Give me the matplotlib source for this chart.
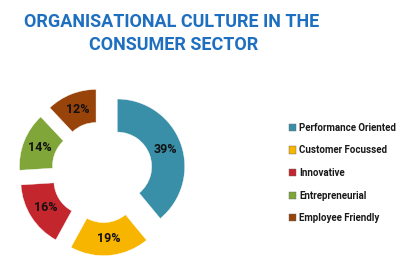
import matplotlib.pyplot as plt
from matplotlib.patches import Patch

labels = ["Performance Oriented", "Customer Focussed", "Innovative",
          "Entrepreneurial", "Employee Friendly"]
shares = [39, 19, 16, 14, 12]
colors = ["#3a8fa8", "#f7b500", "#c4262e", "#80a538", "#974309"]

fam = ["Roboto", "DejaVu Sans"]

W, H = 404, 266
fig = plt.figure(figsize=(W / 100, H / 100), dpi=100)

# donut axes, centre at about (102, 172) px from top-left
cx, cy, half = 102, 172, 94.5
ax = fig.add_axes([(cx - half) / W, (H - cy - half) / H, 2 * half / W, 2 * half / H])
wedges, texts, autotexts = ax.pie(
    shares, colors=colors, startangle=90, counterclock=False,
    explode=[0.24] * len(shares), radius=1,
    wedgeprops=dict(width=0.49, edgecolor="white", linewidth=0.3),
    autopct="%d%%", pctdistance=0.755,
    textprops=dict(fontsize=9, fontweight="bold", color="#111111", family=fam))
ax.set_xlim(-1.4, 1.4)
ax.set_ylim(-1.4, 1.4)
ax.set_aspect("equal")
ax.axis("off")

fig.text(172 / W, 1 - 22 / H, "ORGANISATIONAL CULTURE IN THE", ha="center", va="center",
         fontsize=13, fontweight="bold", family=fam, color="#1f6fc0")
fig.text(174 / W, 1 - 45 / H, "CONSUMER SECTOR", ha="center", va="center",
         fontsize=13, fontweight="bold", family=fam, color="#1f6fc0")

handles = [Patch(facecolor=c, edgecolor="#666666", linewidth=0.3) for c in colors]
leg = fig.legend(handles, labels, loc="upper left", bbox_to_anchor=(280 / W, 1 - 114 / H),
                 frameon=False, handlelength=0.75, handleheight=0.75, handletextpad=0.35,
                 labelspacing=1.3, prop=dict(size=7, weight="bold", family=fam))
for t in leg.get_texts():
    t.set_color("#1a1a1a")

fig.savefig("out.png", dpi=100)
